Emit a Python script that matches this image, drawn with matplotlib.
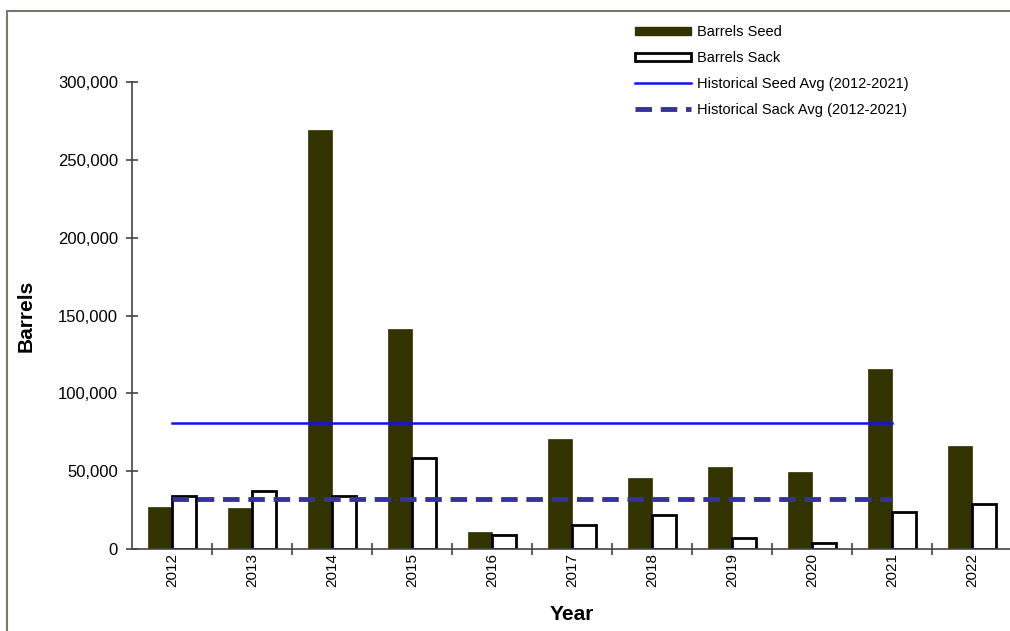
import matplotlib
matplotlib.use("Agg")
import matplotlib.pyplot as plt
import numpy as np
from matplotlib.patches import Patch, Rectangle
from matplotlib.lines import Line2D

years = ["2012", "2013", "2014", "2015", "2016", "2017", "2018", "2019", "2020", "2021", "2022"]
barrels_seed = [27200, 26100, 269200, 141300, 10900, 70500, 45400, 52900, 49300, 115600, 66200]
barrels_sack = [34000, 37500, 34000, 58300, 9000, 15200, 21600, 7300, 4000, 23600, 28900]
hist_seed_avg = 80900
hist_sack_avg = 31900
avg_years = (0, 9)  # 2012 .. 2021
y_ticks = [0, 50000, 100000, 150000, 200000, 250000, 300000]

plt.rcParams['font.family'] = ['Liberation Sans', 'DejaVu Sans']

fig = plt.figure(figsize=(10.10, 6.31), dpi=100)
fig.patch.set_facecolor('white')

# outer frame (only top and left visible)
fig.add_artist(Rectangle((7 / 1010, -0.05), 1.2, 1 - 11 / 631 + 0.05,
                         transform=fig.transFigure, fill=False,
                         edgecolor='#7a7770', linewidth=1.5))

ax = fig.add_axes([132 / 1010, 1 - 549 / 631, 880 / 1010, (549 - 82) / 631])
x = np.arange(len(years))
w = 0.3
seed_color = '#333300'
ax.bar(x - w / 2, barrels_seed, width=w, color=seed_color, edgecolor=seed_color,
       linewidth=0.5, label='Barrels Seed', zorder=2)
ax.bar(x + w / 2, barrels_sack, width=w, color='white', edgecolor='black',
       linewidth=2, label='Barrels Sack', zorder=2)
ax.plot([avg_years[0], avg_years[1]], [hist_seed_avg, hist_seed_avg], color='#1010ff',
        linewidth=1.8, label='Historical Seed Avg (2012-2021)', zorder=3)
ax.plot([avg_years[0], avg_years[1]], [hist_sack_avg, hist_sack_avg], color='#333399',
        linewidth=3.5, dashes=(3.4, 1.8), label='Historical Sack Avg (2012-2021)', zorder=3)

ax.set_xlim(-0.5, len(years) - 0.5)
ax.set_ylim(0, 300000)
for s in ['top', 'right']:
    ax.spines[s].set_visible(False)
for s in ['left', 'bottom']:
    ax.spines[s].set_color('#444444')
    ax.spines[s].set_linewidth(1.2)

ax.set_yticks(y_ticks)
ax.set_yticklabels([f"{v:,}" for v in y_ticks])
ax.tick_params(axis='y', direction='inout', length=8, width=1.2, color='#444444',
               labelsize=12, pad=6)
ax.set_xticks(x)
ax.set_xticklabels(years, rotation=90, fontsize=11)
ax.tick_params(axis='x', which='major', length=0, pad=3)
ax.set_xticks(np.arange(0.5, len(years) - 0.5, 1), minor=True)
ax.tick_params(axis='x', which='minor', direction='inout', length=9, width=1.2, color='#444444')

ax.set_ylabel('Barrels', fontsize=15, fontweight='bold')
ax.set_xlabel('Year', fontsize=15, fontweight='bold', labelpad=13)
ax.yaxis.set_label_coords(-0.11, 0.5)

handles = [
    Patch(facecolor=seed_color, edgecolor=seed_color),
    Patch(facecolor='white', edgecolor='black', linewidth=2),
    Line2D([], [], color='#1010ff', linewidth=1.8),
    Line2D([], [], color='#333399', linewidth=3.5, dashes=(3.4, 1.8)),
]
labels = ['Barrels Seed', 'Barrels Sack', 'Historical Seed Avg (2012-2021)',
          'Historical Sack Avg (2012-2021)']
fig.legend(handles, labels, loc='upper left', bbox_to_anchor=(622 / 1010, 1 - 12 / 631),
           frameon=False, fontsize=10.5, handlelength=3.8, handleheight=0.5,
           labelspacing=0.82, handletextpad=0.45)

fig.savefig('out.png', dpi=100, facecolor='white')
